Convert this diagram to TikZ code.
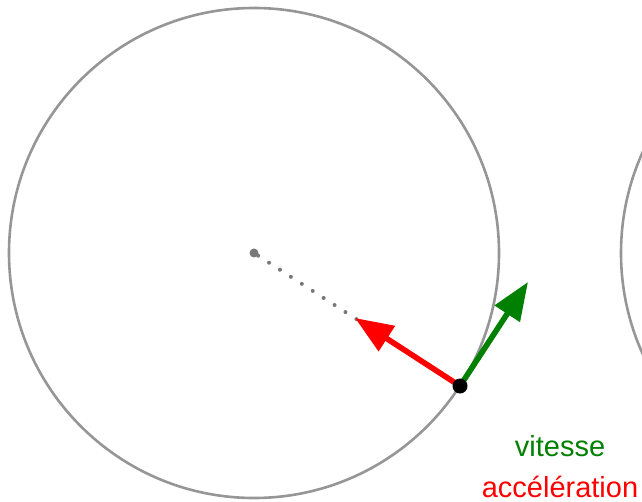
\documentclass[tikz,border=0pt]{standalone}
\usepackage{fontspec}
\setmainfont{Liberation Sans}
\usepackage{tikz}
\usetikzlibrary{arrows.meta}
\definecolor{ringgray}{RGB}{150,150,150}
\definecolor{axisgray}{RGB}{120,120,120}
\definecolor{speedgreen}{RGB}{0,128,0}
\definecolor{accelred}{RGB}{255,0,0}

\begin{document}
\begin{tikzpicture}[x=0.5pt, y=-0.5pt,
  ring/.style={draw=ringgray, line width=1.3pt},
  vector/.style={line width=2.8pt, -{Triangle[length=19pt, width=14.5pt]}},
  legend/.style={font=\fontsize{14.5}{17}\selectfont, anchor=base}]
  \useasboundingbox (0,0) rectangle (642,502);
  \clip (0,0) rectangle (642,502);
  \draw[ring] (254,253) circle[radius=245];
  \draw[ring] (866,253) circle[radius=245];
  \node[circle, fill=axisgray, inner sep=0pt, minimum size=4.5pt] (centre) at (254,253) {};
  \coordinate (mobile) at (460,386);
  \coordinate (vtip) at (528,282);
  \coordinate (atip) at (355,318);
  \draw[axisgray, line width=2pt, line cap=round, dash pattern=on 0pt off 6.5pt] (centre) -- (mobile);
  \draw[vector, color=speedgreen] (mobile) -- (vtip);
  \draw[vector, color=accelred] (mobile) -- (atip);
  \node[circle, fill=black, inner sep=0pt, minimum size=7.5pt] (point) at (mobile) {};
  \node[legend, text=speedgreen] (vlabel) at (560,456) {vitesse};
  \node[legend, text=accelred] (alabel) at (560,497) {accélération};
\end{tikzpicture}
\end{document}
